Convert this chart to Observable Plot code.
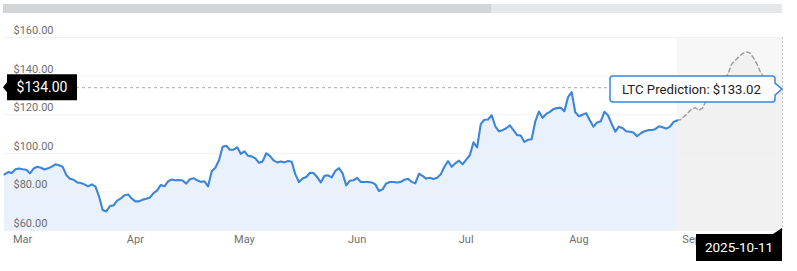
<!DOCTYPE html>
<html>
<head>
<meta charset="utf-8">
<script src="https://cdn.jsdelivr.net/npm/d3@7"></script>
<script src="https://cdn.jsdelivr.net/npm/@observablehq/plot@0.6"></script>
<style>
  html, body { margin: 0; padding: 0; background: #ffffff; }
  #chart { width: 797px; height: 271px; }
  svg { display: block; }
</style>
</head>
<body>
<div id="chart"></div>
<script>
// ---------- data ----------
const historyStart = "2025-02-24";
const historyValues = [
  89.1, 90.3, 89.8, 91.7, 92.1, 91.7, 91.5, 89.6, 92.1, 93.0,
  92.5, 91.6, 92.2, 93.1, 94.3, 93.8, 93.0, 88.8, 86.8, 86.3,
  84.9, 84.6, 83.9, 82.9, 83.9, 82.9, 77.7, 70.6, 69.9, 72.7,
  73.0, 75.5, 76.6, 78.3, 78.7, 76.6, 75.1, 75.1, 76.0, 76.5,
  77.1, 79.4, 80.8, 83.6, 82.9, 85.5, 86.4, 86.0, 86.2, 85.9,
  84.3, 86.6, 87.1, 86.0, 85.2, 85.5, 82.9, 90.7, 92.5, 96.4,
  103.4, 103.9, 101.8, 101.9, 103.1, 99.7, 101.0, 98.7, 98.4, 97.4,
  95.1, 95.8, 100.0, 98.7, 96.3, 95.3, 95.8, 95.3, 96.0, 95.6,
  89.1, 85.1, 86.9, 87.7, 89.9, 89.8, 87.7, 84.9, 88.3, 88.6,
  87.5, 90.9, 92.3, 89.6, 83.4, 85.8, 86.0, 87.3, 85.1, 85.1,
  85.1, 84.9, 83.9, 80.5, 81.3, 84.4, 85.1, 85.1, 84.9, 85.2,
  86.3, 86.8, 85.2, 84.4, 89.4, 88.3, 86.9, 87.3, 86.7, 87.3,
  89.1, 93.0, 96.0, 93.0, 94.8, 96.2, 94.3, 96.7, 99.0, 105.7,
  103.1, 115.1, 117.4, 117.5, 119.7, 114.0, 111.4, 112.0, 113.0, 114.5,
  112.0, 109.4, 109.2, 105.9, 107.0, 107.3, 116.6, 121.6, 118.4, 120.4,
  121.5, 122.9, 123.4, 123.6, 121.8, 129.1, 131.7, 121.3, 119.2, 120.0,
  120.8, 117.1, 113.8, 116.0, 116.6, 121.5, 119.7, 115.3, 111.2, 113.8,
  113.1, 111.4, 111.2, 110.8, 108.8, 110.4, 111.4, 112.0, 112.1, 112.5,
  114.0, 113.5, 112.8, 113.7, 116.2, 117.0
];
const predictionStart = "2025-08-28";
const predictionValues = [
  117.0, 117.5, 119.2, 121.0, 122.9, 123.6, 122.3, 123.4, 127.3, 131.2,
  133.8, 135.8, 136.9, 138.4, 141.0, 146.2, 148.1, 150.1, 151.7, 152.6,
  152.0, 149.6, 146.2, 141.8, 139.0, 137.4, 135.8, 134.8, 133.8, 133.02
];
const yTicks = [60, 80, 100, 120, 140, 160];
const monthTicks = ["2025-03-01", "2025-04-01", "2025-05-01", "2025-06-01", "2025-07-01", "2025-08-01", "2025-09-01"];
const currentPrice = 134.00;
const predictionLabel = "LTC Prediction: $133.02";
const predictionDateLabel = "2025-10-11";
const navigatorEnd = "2025-07-08";

// ---------- tables ----------
const hStart = new Date(historyStart + "T00:00:00Z");
const pStart = new Date(predictionStart + "T00:00:00Z");
const history = historyValues.map((v, i) => ({date: d3.utcDay.offset(hStart, i), value: v}));
const prediction = predictionValues.map((v, i) => ({date: d3.utcDay.offset(pStart, i), value: v}));
const months = monthTicks.map(s => new Date(s + "T00:00:00Z"));
const lastHist = history[history.length - 1].date;
const lastPred = prediction[prediction.length - 1];
const fmtMoney = v => "$" + v.toFixed(2);

const BLUE = "#3d85d8";

const plot = Plot.plot({
  width: 797,
  height: 271,
  marginTop: 37,
  marginBottom: 41,
  marginLeft: 4,
  marginRight: 15,
  style: {fontFamily: "Roboto, 'Noto Sans', sans-serif", background: "#ffffff", overflow: "visible"},
  x: {type: "utc", domain: [hStart, lastPred.date], axis: null},
  y: {domain: [60, 160], axis: null},
  marks: [
    Plot.rect([{a: lastHist, b: lastPred.date}], {x1: "a", x2: "b", y1: 60, y2: 160, fill: "#f7f7f7"}),
    Plot.areaY(prediction, {x: "date", y1: 60, y2: "value", fill: "#f1f1f1"}),
    Plot.areaY(history, {x: "date", y1: 60, y2: "value", fill: "#e8f1fc"}),
    Plot.ruleY(yTicks, {stroke: "#f1f1f1", strokeWidth: 1}),
    Plot.ruleY([currentPrice], {stroke: "#a8a8a8", strokeDasharray: "3,3", strokeWidth: 1}),
    Plot.ruleX([lastPred.date], {stroke: "#c8c8c8", strokeDasharray: "2,2", strokeWidth: 1}),
    Plot.line(prediction, {x: "date", y: "value", stroke: "#9a9a9a", strokeWidth: 1.4, strokeDasharray: "4,3"}),
    Plot.line(history, {x: "date", y: "value", stroke: BLUE, strokeWidth: 2.1, strokeLinejoin: "round"}),
    Plot.text(yTicks, {y: d => d, text: d => fmtMoney(d), frameAnchor: "left", textAnchor: "start", dx: 9, dy: -7, fill: "#6f6f6f", fontSize: 11}),
    Plot.text(months, {x: d => d, text: d => d3.utcFormat("%b")(d), frameAnchor: "bottom", dy: 12, fill: "#6f6f6f", fontSize: 11})
  ]
});

document.getElementById("chart").appendChild(plot);

// ---------- annotations positioned through the plot's scales ----------
const sx = plot.scale("x"), sy = plot.scale("y");
const svg = d3.select(plot);
const x0 = sx.range[0], x1 = sx.range[1];

// navigator scrollbar at top
const nav = svg.append("g");
nav.append("rect").attr("x", x0 - 1).attr("y", 4).attr("width", x1 - x0 + 1).attr("height", 9).attr("fill", "#e6e7e9");
nav.append("rect").attr("x", x0 - 1).attr("y", 4).attr("width", sx.apply(new Date(navigatorEnd + "T00:00:00Z")) - x0 + 1).attr("height", 9).attr("fill", "#d3d4d6");

// current price label
const yc = sy.apply(currentPrice);
const cp = svg.append("g");
cp.append("path")
  .attr("d", `M${x0 + 3},${yc - 13} H${x0 + 73} V${yc + 13} H${x0 + 3} V${yc + 5} L${x0 - 1},${yc} L${x0 + 3},${yc - 5} Z`)
  .attr("fill", "#000");
cp.append("text").attr("x", x0 + 38).attr("y", yc).attr("dy", "0.36em")
  .attr("text-anchor", "middle").attr("fill", "#fff").attr("font-size", 14)
  .attr("font-family", "Roboto, sans-serif").text(fmtMoney(currentPrice));

// prediction tooltip
const px = sx.apply(lastPred.date), py = sy.apply(lastPred.value);
const L = px - 172, R = px - 7, T = py - 13, B = py + 13;
const tip = svg.append("g");
tip.append("path")
  .attr("d", `M${L + 3},${T} H${R - 3} Q${R},${T} ${R},${T + 3} V${py - 6} L${px},${py} L${R},${py + 6} V${B - 3} Q${R},${B} ${R - 3},${B} H${L + 3} Q${L},${B} ${L},${B - 3} V${T + 3} Q${L},${T} ${L + 3},${T} Z`)
  .attr("fill", "#fff").attr("stroke", BLUE).attr("stroke-width", 1.5);
tip.append("text").attr("x", L + 12).attr("y", py).attr("dy", "0.36em")
  .attr("text-anchor", "start")
  .attr("fill", "#222").attr("font-size", 13.2).attr("font-family", "Roboto, sans-serif")
  .text(predictionLabel);

// date label at bottom right
const yb = sy.range[0];
const dl = svg.append("g");
dl.append("path")
  .attr("d", `M${px - 86},${yb + 4} H${px - 9} L${px},${yb - 2} V${yb + 31} H${px - 86} Z`)
  .attr("fill", "#000");
dl.append("text").attr("x", px - 43).attr("y", yb + 17.5).attr("dy", "0.36em")
  .attr("text-anchor", "middle").attr("fill", "#fff").attr("font-size", 13.5)
  .attr("font-family", "Roboto, sans-serif").text(predictionDateLabel);
</script>
</body>
</html>
